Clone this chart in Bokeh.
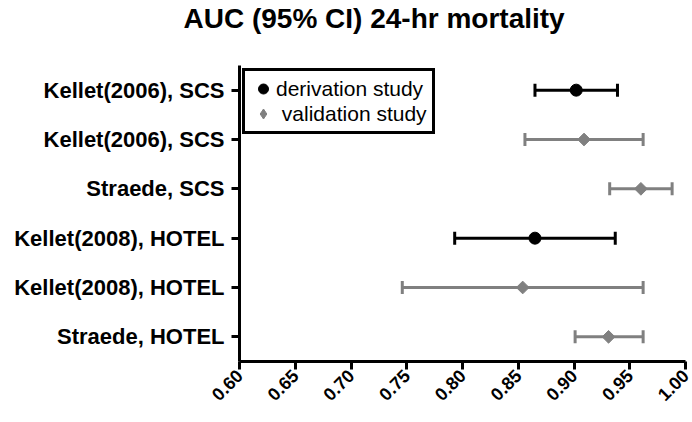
import numpy as np
from bokeh.plotting import figure
from bokeh.models import (ColumnDataSource, Whisker, TeeHead, FixedTicker,
                          Legend, LegendItem, Title)
from bokeh.embed import file_html
from bokeh.resources import INLINE

# Studies, listed top to bottom
labels = ["Kellet(2006), SCS", "Kellet(2006), SCS", "Straede, SCS",
          "Kellet(2008), HOTEL", "Kellet(2008), HOTEL", "Straede, HOTEL"]
study_type = ["derivation", "validation", "validation",
              "derivation", "validation", "validation"]
auc = [0.902, 0.909, 0.960, 0.865, 0.854, 0.931]
ci_low = [0.865, 0.856, 0.932, 0.793, 0.746, 0.901]
ci_high = [0.939, 0.962, 0.988, 0.937, 0.962, 0.962]
x_ticks = [0.60, 0.65, 0.70, 0.75, 0.80, 0.85, 0.90, 0.95, 1.00]

FONT = "Liberation Sans"
BLACK = "#000000"
GREY = "#808080"

W, H = 692, 422
BORDER_L, BORDER_R, BORDER_T, BORDER_B = 239, 7, 63, 61

n = len(labels)
ypos = list(range(n, 0, -1))

def subset(kind):
    idx = [i for i, k in enumerate(study_type) if k == kind]
    return ColumnDataSource(dict(
        y=[ypos[i] for i in idx],
        auc=[auc[i] for i in idx],
        lo=[ci_low[i] for i in idx],
        hi=[ci_high[i] for i in idx],
    ))

src_der = subset("derivation")
src_val = subset("validation")

p = figure(width=W, height=H, x_range=(0.6, 1.0), y_range=(0.5, n + 0.5),
           output_backend="svg", toolbar_location=None,
           min_border_left=BORDER_L, min_border_right=BORDER_R,
           min_border_top=BORDER_T, min_border_bottom=BORDER_B)
p.outline_line_color = None
p.xgrid.visible = False
p.ygrid.visible = False

p.title.text = "AUC (95% CI) 24-hr mortality"
p.title.text_font = FONT
p.title.text_font_style = "bold"
p.title.text_font_size = "28px"
p.title.text_color = BLACK
p.title.align = "left"
p.title.offset = -56
p.title.standoff = 0

# blank band between the title and the plot frame
p.add_layout(Title(text=" ", text_font_size="27px", standoff=0), "above")

# Confidence-interval whiskers
for src, col in ((src_der, BLACK), (src_val, GREY)):
    w = Whisker(base="y", lower="lo", upper="hi", dimension="width", source=src,
                line_color=col, line_width=3,
                lower_head=TeeHead(size=13, line_color=col, line_width=3),
                upper_head=TeeHead(size=13, line_color=col, line_width=3))
    p.add_layout(w)

r_der = p.scatter("auc", "y", source=src_der, marker="circle", size=12,
                  fill_color=BLACK, line_color=BLACK)
r_val = p.scatter("auc", "y", source=src_val, marker="square", size=9,
                  angle=np.pi / 4, fill_color=GREY, line_color=GREY)

# Diamond key for the legend (not drawn in the plot area)
key_val = p.scatter("auc", "y", source=src_val, marker="diamond",
                    fill_color=GREY, line_color=GREY, visible=False)

# X axis
xa = p.xaxis[0]
xa.ticker = FixedTicker(ticks=x_ticks)
xa.major_label_overrides = {t: f"{t:.2f}" for t in x_ticks}
xa.major_label_orientation = np.pi / 4
xa.major_label_text_font = FONT
xa.major_label_text_font_style = "bold"
xa.major_label_text_font_size = "18px"
xa.major_label_text_color = BLACK
xa.axis_line_width = 3
xa.axis_line_color = BLACK
xa.major_tick_line_width = 3
xa.major_tick_line_color = BLACK
xa.major_tick_in = 0
xa.major_tick_out = 8
xa.minor_tick_line_color = None
xa.major_label_standoff = 3

# Y axis with study names
ya = p.yaxis[0]
ya.ticker = FixedTicker(ticks=ypos)
ya.major_label_overrides = {y: lab for y, lab in zip(ypos, labels)}
ya.major_label_text_font = FONT
ya.major_label_text_font_style = "bold"
ya.major_label_text_font_size = "22px"
ya.major_label_text_color = BLACK
ya.axis_line_width = 3
ya.axis_line_color = BLACK
ya.major_tick_line_width = 3
ya.major_tick_line_color = BLACK
ya.major_tick_in = 0
ya.major_tick_out = 8
ya.minor_tick_line_color = None
ya.major_label_standoff = 7

legend = Legend(items=[LegendItem(label="derivation study", renderers=[r_der]),
                       LegendItem(label=" validation study", renderers=[key_val])],
                location="top_left")
legend.margin = 3
legend.padding = 5
legend.spacing = 0
legend.glyph_width = 26
legend.glyph_height = 25
legend.label_standoff = 0
legend.label_text_font = FONT
legend.label_text_font_size = "21px"
legend.label_text_color = BLACK
legend.label_height = 22
legend.border_line_color = BLACK
legend.border_line_alpha = 1
legend.border_line_width = 3
legend.background_fill_alpha = 1
p.add_layout(legend)

open("out.html", "w").write(file_html(p, INLINE))
